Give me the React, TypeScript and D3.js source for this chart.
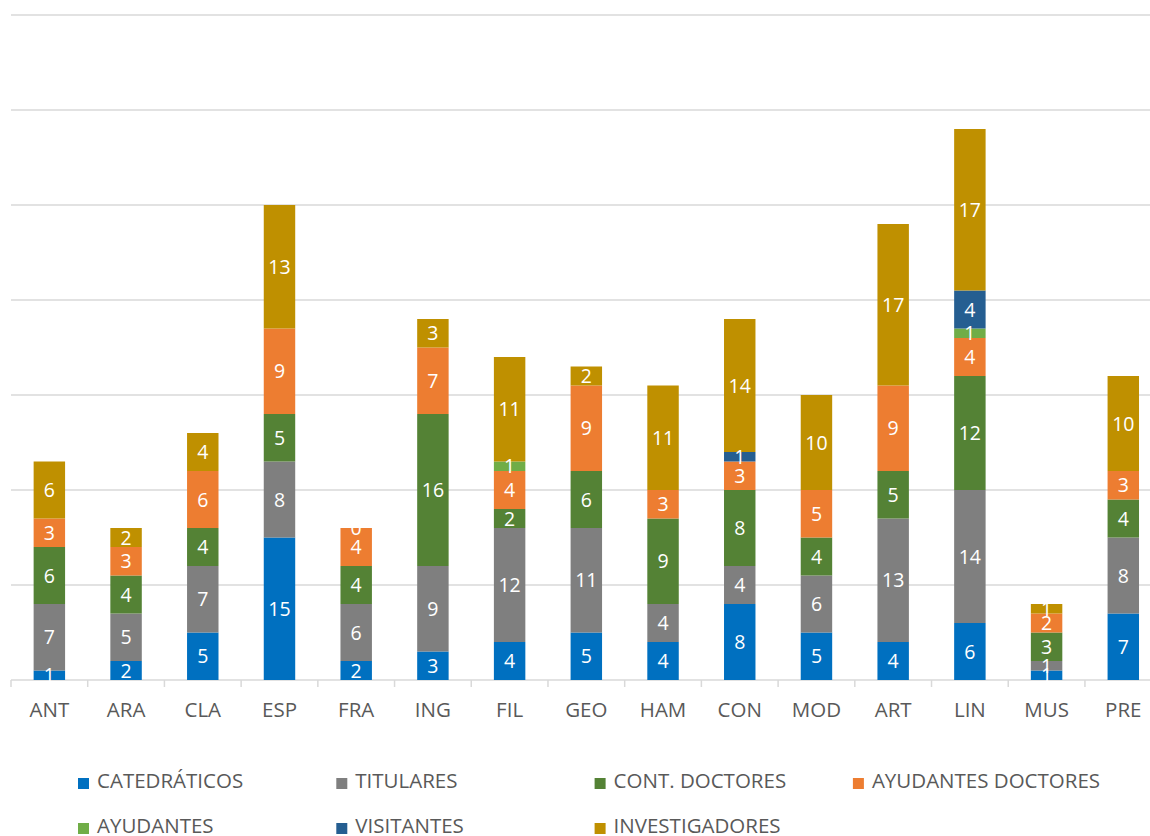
import React from "react";
import * as d3 from "d3";

const categories = ["ANT", "ARA", "CLA", "ESP", "FRA", "ING", "FIL", "GEO", "HAM", "CON", "MOD", "ART", "LIN", "MUS", "PRE"];
const seriesNames = ["CATEDRÁTICOS", "TITULARES", "CONT. DOCTORES", "AYUDANTES DOCTORES", "AYUDANTES", "VISITANTES", "INVESTIGADORES"];
const catedraticos: (number | null)[] = [1, 2, 5, 15, 2, 3, 4, 5, 4, 8, 5, 4, 6, 1, 7];
const titulares: (number | null)[] = [7, 5, 7, 8, 6, 9, 12, 11, 4, 4, 6, 13, 14, 1, 8];
const contDoctores: (number | null)[] = [6, 4, 4, 5, 4, 16, 2, 6, 9, 8, 4, 5, 12, 3, 4];
const ayudantesDoctores: (number | null)[] = [3, 3, 6, 9, 4, 7, 4, 9, 3, 3, 5, 9, 4, 2, 3];
const ayudantes: (number | null)[] = [null, null, null, null, null, null, 1, null, null, null, null, null, 1, null, null];
const visitantes: (number | null)[] = [null, null, null, null, null, null, null, null, null, 1, null, null, 4, null, null];
const investigadores: (number | null)[] = [6, 2, 4, 13, 0, 3, 11, 2, 11, 14, 10, 17, 17, 1, 10];
const yTicks = [10, 20, 30, 40, 50, 60, 70];

const seriesValues = [catedraticos, titulares, contDoctores, ayudantesDoctores, ayudantes, visitantes, investigadores];
const colors = ["#0070C0", "#7F7F7F", "#548235", "#ED7D31", "#70AD47", "#255E91", "#BF9000"];

export default function App() {
  const W = 1150, H = 836;
  const x = d3.scaleBand<string>().domain(categories).range([11, 11 + 15 * 76.71]).paddingInner(0.59).paddingOuter(0.295);
  const y = d3.scaleLinear().domain([0, 70]).range([680, 15]);
  const font = "'Open Sans', sans-serif";

  const segs: { key: string; x: number; y0: number; y1: number; v: number; color: string }[] = [];
  categories.forEach((c, i) => {
    let acc = 0;
    seriesValues.forEach((arr, s) => {
      const v = arr[i];
      if (v === null || v === undefined) return;
      segs.push({ key: c + s, x: x(c)!, y0: y(acc), y1: y(acc + v), v, color: colors[s] });
      acc += v;
    });
  });

  const step = x.step();
  const boundaries = d3.range(categories.length + 1).map((k) => 11 + k * step);

  const legendPos = seriesNames.map((_, i) => ({ x: 78 + (i % 4) * 258.3, y: i < 4 ? 788 : 833 }));

  return (
    <svg width={W} height={H} style={{ position: "absolute", left: 0, top: 0, background: "#fff" }} fontFamily={font}>
      {yTicks.map((t) => (
        <line key={t} x1={11} x2={W} y1={y(t)} y2={y(t)} stroke="#D9D9D9" strokeWidth={1.5} />
      ))}
      <line x1={11} x2={W} y1={y(0)} y2={y(0)} stroke="#D9D9D9" strokeWidth={1.5} />
      {boundaries.map((b, k) => (
        <line key={k} x1={b} x2={b} y1={y(0)} y2={y(0) + 7} stroke="#D9D9D9" strokeWidth={1.5} />
      ))}
      {segs.map((s) => (
        <rect key={s.key} x={s.x} y={s.y1} width={x.bandwidth()} height={Math.max(0, s.y0 - s.y1)} fill={s.color} />
      ))}
      {segs.map((s) => (
        <text key={"t" + s.key} x={s.x + x.bandwidth() / 2} y={(s.y0 + s.y1) / 2 + 7} textAnchor="middle" fontSize={19.5} fill="#fff">
          {s.v}
        </text>
      ))}
      {categories.map((c) => (
        <text key={c} x={x(c)! + x.bandwidth() / 2} y={717} textAnchor="middle" fontSize={20.5} fill="#595959">
          {c}
        </text>
      ))}
      {seriesNames.map((n, i) => (
        <g key={n}>
          <rect x={legendPos[i].x} y={legendPos[i].y - 10} width={11} height={11} fill={colors[i]} />
          <text x={legendPos[i].x + 19} y={legendPos[i].y} fontSize={20.5} fill="#595959">
            {n}
          </text>
        </g>
      ))}
    </svg>
  );
}
